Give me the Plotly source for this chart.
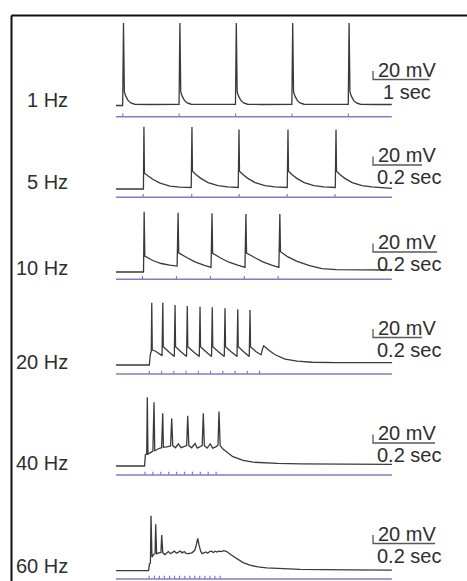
import plotly.graph_objects as go

# ------------------------------------------------------------------
# DATA  (time in ms from start of sweep, depolarisation in mV from rest)
# ------------------------------------------------------------------
freq_labels = ["1 Hz", "5 Hz", "10 Hz", "20 Hz", "40 Hz", "60 Hz"]
time_bar_labels = ["1 sec", "0.2 sec", "0.2 sec", "0.2 sec", "0.2 sec", "0.2 sec"]
time_bar_ms = [1000, 200, 200, 200, 200, 200]
volt_bar_mv = 20
volt_bar_label = "20 mV"

# 1 Hz
t_1hz = [0, 118, 133, 148, 173, 213, 263, 333, 600, 850, 1118,
         1133, 1148, 1173, 1213, 1263, 1333, 1600, 1850, 2118,
         2133, 2148, 2173, 2213, 2263, 2333, 2600, 2850, 3118,
         3133, 3148, 3173, 3213, 3263, 3333, 3600, 3850, 4118,
         4133, 4148, 4173, 4213, 4263, 4333, 4600, 4890]
v_1hz = [0, 0, 194, 32, 22, 12, 6, 3, 2.4, 2.0, 2.6,
         194, 32, 22, 12, 6, 3, 2.6, 1.8, 2.6,
         194, 32, 22, 12, 6, 3, 2.3, 2.0, 2.7,
         194, 32, 22, 12, 6, 3, 2.5, 1.9, 2.6,
         194, 32, 22, 12, 6, 3, 2.4, 2.4]
stim_1hz = [120, 1120, 2120, 3120, 4120]

# 5 Hz
t_5hz = [0, 112, 114, 116, 130, 150, 180, 220, 260, 307,
         310, 312, 326, 346, 376, 416, 456, 499,
         502, 504, 518, 538, 568, 608, 648, 699,
         702, 704, 718, 738, 768, 808, 848, 895,
         898, 900, 914, 934, 964, 1004, 1044, 1127]
v_5hz = [0, 0, 146.6, 37, 31, 23, 14, 7, 4.5, 3.5,
         146, 42, 34, 25, 15, 8, 5, 3.5,
         140, 42, 34, 25, 15, 8, 5, 3.5,
         140, 42, 34, 25, 15, 8, 5, 3.5,
         140, 42, 34, 25, 15, 8, 5, 1.5]
stim_5hz = [111, 309, 503, 699, 894]

# 10 Hz
t_10hz = [0, 86, 88, 90, 115, 141, 168, 191,
          194, 196, 221, 247, 274, 297,
          300, 302, 327, 353, 380, 403,
          406, 408, 433, 459, 486, 509,
          512, 514, 536, 566, 605, 644, 689, 794, 862]
v_10hz = [0, 0, 142, 37.6, 27, 20, 16, 14,
          139.5, 45, 34, 24, 16, 11,
          138, 44, 33, 23, 16, 11,
          136.5, 44.7, 34, 24, 16, 11,
          136.5, 47.8, 36, 25, 15, 8, 5.5, 4.7, 4.7]
stim_10hz = [83, 189, 295, 401, 507]

# 20 Hz
t_20hz = [0, 136, 140, 144, 146, 148, 160, 175, 188,
          191, 193, 215, 238,
          241, 243, 265, 288,
          291, 293, 316, 340,
          343, 345, 367, 390,
          393, 395, 418, 442,
          445, 447, 470, 494,
          497, 499, 521, 544,
          547, 549, 572, 592, 598, 603, 610, 625, 650, 690, 740, 800, 900, 1127]
v_20hz = [0, 0, 24, 33, 146.6, 35, 33, 28, 22,
          146.6, 43, 31, 20,
          141, 43, 31, 20,
          139, 43, 31, 20,
          137, 43, 31, 20,
          135.7, 43, 31, 20,
          133.3, 43, 31, 20,
          131, 43, 31, 20,
          129.4, 43, 31, 24, 38, 45, 42, 34, 24, 14, 9, 6.5, 5.5, 5.5]
stim_20hz = [136, 186, 236, 286, 336, 386, 436, 486, 536, 586]

# 40 Hz
t_40hz = [0, 92, 95, 99, 101, 103, 110, 119, 122.6, 125, 135, 147, 150.7, 153,
          163, 176, 179.7, 183, 192, 201, 210, 222, 228, 231.3, 235, 244, 255,
          262, 272, 278, 281.6, 285, 294, 304, 312, 322, 329, 332.3, 336, 345,
          377, 410, 442, 520, 594, 750, 890]
v_40hz = [0, 0, 27, 28, 162, 28, 31, 35, 150, 36, 40, 43, 124, 44,
          45, 47, 112, 48, 43, 52, 43, 47, 48, 118, 48, 43, 53,
          42, 45, 48, 124, 48, 42, 52, 42, 45, 49, 128, 48, 40,
          22, 13, 9, 6, 5, 4.5, 4]
stim_40hz = [93.5, 119, 144.5, 170, 195.5, 221, 246.5, 272, 297.5, 323]

# 60 Hz
t_60hz = [0, 105, 108, 111, 113, 116, 121, 126, 128, 131, 138, 145, 147.4, 151,
          158, 164, 169, 176, 182, 188, 195, 201, 207, 214, 220, 226, 233, 245,
          254, 259, 263.6, 268, 273, 278, 284, 290, 296, 302, 308, 314, 320, 326,
          332, 340, 348, 357, 372, 389, 410, 432, 458, 486, 540, 594, 750, 890]
v_60hz = [0, 0, 16, 18, 129, 32, 38, 40, 109, 40, 42, 43, 84, 42,
          38, 42, 45, 40, 43, 46, 41, 44, 46, 42, 45, 41, 40, 42,
          48, 60, 76, 60, 46, 40, 42, 44, 41, 45, 46, 43, 46, 44,
          46, 45, 47, 45, 37, 28, 19, 13, 9, 6.5, 4, 3, 2, 1.5]
stim_60hz = [107, 124, 140, 156, 173, 189, 205, 222, 238, 254, 270, 287, 303, 319, 336]

traces_t = [t_1hz, t_5hz, t_10hz, t_20hz, t_40hz, t_60hz]
traces_v = [v_1hz, v_5hz, v_10hz, v_20hz, v_40hz, v_60hz]
stims = [stim_1hz, stim_5hz, stim_10hz, stim_20hz, stim_40hz, stim_60hz]

# ------------------------------------------------------------------
# LAYOUT CONSTANTS (page geometry)
# ------------------------------------------------------------------
W, H = 467, 581
FONT = "Liberation Sans, Arial, Helvetica, sans-serif"
FS = 20
TRACE_COLOR = "#3a3a3a"
STIM_COLOR = "#7c7fc6"
TEXT_COLOR = "#2e2e2e"

x0_px = 116                                  # left edge of every sweep
px_per_s = [56.4, 245, 320, 245, 310, 310]   # horizontal scale per row
mv_per_px = 20 / 8.5                         # vertical scale (all rows)
base_px = [105.5, 189, 272, 365, 466, 570.7] # resting level per row
stim_px = [116.7, 197.3, 279.3, 374, 475, 579]
tick_px = 3.3
bar_px_x = 373
bar_px_y = [79.5, 165, 252, 337.5, 443, 543.5]
label_px_y = [100, 182.5, 268, 361.7, 463, 566]
label_px_x = 69.5

fig = go.Figure()
layout_axes = {}
annotations = []

for i in range(6):
    n = "" if i == 0 else str(i + 1)
    xa, ya = "x" + n, "y" + n
    ms_per_px = 1000.0 / px_per_s[i]
    b = base_px[i]
    layout_axes["xaxis" + n] = dict(domain=[0, 1], anchor=ya, visible=False,
                                    range=[-x0_px * ms_per_px, (W - x0_px) * ms_per_px],
                                    fixedrange=True)
    layout_axes["yaxis" + n] = dict(domain=[0, 1], anchor=xa, visible=False,
                                    range=[(b - H) * mv_per_px, b * mv_per_px],
                                    fixedrange=True)

    t = traces_t[i]
    v = traces_v[i]
    end = t[-1]

    # stimulus marker line + ticks
    ys = -(stim_px[i] - b) * mv_per_px
    th = tick_px * mv_per_px
    fig.add_trace(go.Scatter(x=[0, end], y=[ys, ys], mode="lines",
                             line=dict(color=STIM_COLOR, width=1.6),
                             xaxis=xa, yaxis=ya, showlegend=False, hoverinfo="skip"))
    tx, ty = [], []
    for s in stims[i]:
        tx += [s, s, None]
        ty += [ys, ys + th, None]
    fig.add_trace(go.Scatter(x=tx, y=ty, mode="lines",
                             line=dict(color=STIM_COLOR, width=1.2),
                             xaxis=xa, yaxis=ya, showlegend=False, hoverinfo="skip"))

    # membrane potential
    fig.add_trace(go.Scatter(x=t, y=v, mode="lines",
                             line=dict(color=TRACE_COLOR, width=1.3),
                             xaxis=xa, yaxis=ya, showlegend=False))

    # scale bar
    bx = (bar_px_x - x0_px) * ms_per_px
    by = (b - bar_px_y[i]) * mv_per_px
    fig.add_trace(go.Scatter(x=[bx, bx, bx + time_bar_ms[i]],
                             y=[by + volt_bar_mv, by, by], mode="lines",
                             line=dict(color="#5a5a5a", width=1.3),
                             xaxis=xa, yaxis=ya, showlegend=False, hoverinfo="skip"))
    annotations.append(dict(x=bx, y=by, xref=xa, yref=ya, text=volt_bar_label,
                            showarrow=False, xanchor="left", yanchor="bottom",
                            xshift=3, yshift=-3,
                            font=dict(family=FONT, size=FS, color=TEXT_COLOR)))
    annotations.append(dict(x=bx, y=by, xref=xa, yref=ya, text=time_bar_labels[i],
                            showarrow=False, xanchor="left", yanchor="top",
                            xshift=8 if i == 0 else 2, yshift=1,
                            font=dict(family=FONT, size=FS, color=TEXT_COLOR)))
    # frequency label
    annotations.append(dict(x=label_px_x / W, y=1 - label_px_y[i] / H,
                            xref="paper", yref="paper", text=freq_labels[i],
                            showarrow=False, xanchor="right", yanchor="middle",
                            font=dict(family=FONT, size=FS, color=TEXT_COLOR)))

frame_x = 11.5 / W
frame_y = 1 - 15.5 / H
shapes = [
    dict(type="line", xref="paper", yref="paper", x0=frame_x, y0=frame_y, x1=1, y1=frame_y,
         line=dict(color="#111111", width=2)),
    dict(type="line", xref="paper", yref="paper", x0=frame_x, y0=frame_y, x1=frame_x, y1=0,
         line=dict(color="#111111", width=2)),
]

fig.update_layout(width=W, height=H, margin=dict(l=0, r=0, t=0, b=0),
                  paper_bgcolor="white", plot_bgcolor="rgba(0,0,0,0)",
                  showlegend=False, annotations=annotations, shapes=shapes,
                  **layout_axes)

fig.write_html("out.html", config={"displayModeBar": False})
